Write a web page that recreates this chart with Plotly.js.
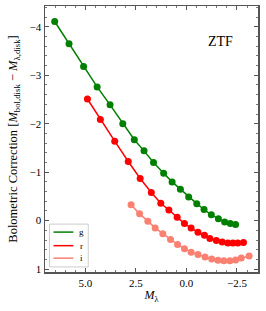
<!DOCTYPE html>
<html><head><meta charset="utf-8">
<script src="https://cdn.plot.ly/plotly-3.0.1.min.js"></script>
<style>html,body{margin:0;padding:0;background:#fff}#chart{width:266px;height:311px}</style>
</head><body><div id="chart"></div>
<script>
const seriesNames = ["g", "r", "i"];
const seriesColors = ["#008000", "#ff0000", "#fa8072"];
const gM  = [6.52, 5.81, 5.09, 4.42, 3.78, 3.15, 2.58, 2.10, 1.63, 1.13, 0.71, 0.30, -0.11, -0.51, -0.87, -1.23, -1.58, -1.89, -2.17, -2.43];
const gBC = [-4.11, -3.65, -3.18, -2.76, -2.39, -2.00, -1.67, -1.44, -1.20, -0.98, -0.80, -0.65, -0.49, -0.35, -0.23, -0.12, -0.04, 0.03, 0.06, 0.08];
const rM  = [4.90, 4.26, 3.55, 2.88, 2.29, 1.74, 1.27, 0.87, 0.46, 0.10, -0.23, -0.57, -0.89, -1.16, -1.48, -1.77, -2.05, -2.30, -2.54, -2.82];
const rBC = [-2.51, -2.09, -1.64, -1.22, -0.87, -0.58, -0.36, -0.22, -0.07, 0.06, 0.15, 0.24, 0.30, 0.37, 0.41, 0.44, 0.46, 0.46, 0.46, 0.45];
const iM  = [2.74, 2.32, 1.91, 1.55, 1.17, 0.79, 0.44, 0.10, -0.23, -0.57, -0.92, -1.25, -1.56, -1.85, -2.15, -2.43, -2.71, -3.10];
const iBC = [-0.33, -0.14, 0.01, 0.15, 0.27, 0.39, 0.49, 0.58, 0.65, 0.70, 0.75, 0.79, 0.82, 0.83, 0.83, 0.81, 0.77, 0.73];
const panelLabel = "ZTF";

const xs = [gM, rM, iM], ys = [gBC, rBC, iBC];
const traces = xs.map((x, k) => ({
  x: x, y: ys[k], type: "scatter", mode: "lines+markers", name: seriesNames[k],
  line: {color: seriesColors[k], width: 1.5},
  marker: {color: seriesColors[k], size: 7},
  showlegend: false, hoverinfo: "skip"
}));

const FONT = "'Liberation Serif', 'DejaVu Serif', serif";
const frame = "#555";
const shapes = [], annotations = [];
// compact legend box (matplotlib style)
shapes.push({type: "rect", xref: "paper", yref: "paper", x0: 0.021, x1: 0.203, y0: 0.019, y1: 0.180,
  line: {color: "#cccccc", width: 1}, fillcolor: "rgba(255,255,255,0.9)"});
const legY = [0.150, 0.099, 0.052];
seriesNames.forEach((n, k) => {
  shapes.push({type: "line", xref: "paper", yref: "paper", x0: 0.040, x1: 0.133, y0: legY[k], y1: legY[k],
    line: {color: seriesColors[k], width: 1.5}});
  annotations.push({xref: "paper", yref: "paper", x: 0.172, y: legY[k], text: n, showarrow: false,
    xanchor: "center", yanchor: "middle", font: {family: FONT, size: 9, color: "#000"}});
});
annotations.push({xref: "paper", yref: "paper", x: 0.822, y: 0.866, text: panelLabel, showarrow: false,
  xanchor: "center", yanchor: "middle", font: {family: FONT, size: 14, color: "#000"}});

const layout = {
  width: 266, height: 311,
  margin: {l: 44.5, r: 7.5, t: 6, b: 39, pad: 0},
  paper_bgcolor: "#fff", plot_bgcolor: "#fff",
  font: {family: FONT, size: 11, color: "#000"},
  xaxis: {
    range: [7.0, -3.54], tick0: 0, dtick: 2.5, tickformat: ".1f",
    ticks: "inside", ticklen: 4, tickwidth: 1, tickcolor: frame,
    minor: {dtick: 0.5, ticks: "inside", ticklen: 2, tickwidth: 0.8, tickcolor: frame},
    showline: true, linecolor: frame, linewidth: 1.5, mirror: "allticks",
    showgrid: false, zeroline: false, tickfont: {family: FONT, size: 11},
    title: {text: "<i>M</i><sub>λ</sub>", font: {family: FONT, size: 12}, standoff: 3}
  },
  yaxis: {
    range: [1.06, -4.43], tick0: 0, dtick: 1,
    ticks: "inside", ticklen: 4, tickwidth: 1, tickcolor: frame,
    minor: {dtick: 0.2, ticks: "inside", ticklen: 2, tickwidth: 0.8, tickcolor: frame},
    showline: true, linecolor: frame, linewidth: 1.5, mirror: "allticks",
    showgrid: false, zeroline: false, tickfont: {family: FONT, size: 11},
    title: {text: "Bolometric Correction [<i>M</i><sub>bol,disk</sub> − <i>M</i><sub>λ,disk</sub>]",
      font: {family: FONT, size: 12.5}, standoff: 9}
  },
  shapes: shapes, annotations: annotations
};
Plotly.newPlot("chart", traces, layout, {staticPlot: true, displayModeBar: false});
</script></body></html>
